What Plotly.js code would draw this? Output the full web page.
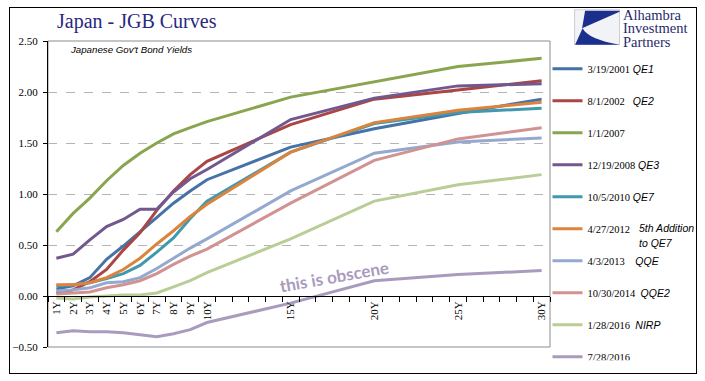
<!DOCTYPE html>
<html>
<head>
<meta charset="utf-8">
<script src="https://cdn.plot.ly/plotly-3.0.1.min.js"></script>
<style>
  body { margin: 0; background: #fff; }
  #chart { position: absolute; left: 0; top: 0; width: 705px; height: 381px; }
  #frame { position: absolute; left: 9px; top: 7px; width: 688px; height: 367px; box-sizing: border-box; border: 1px solid #000; pointer-events: none; }
</style>
</head>
<body>
<div id="chart"></div>
<div id="frame"></div>
<script>
// ---- data ----
const maturities = [1, 2, 3, 4, 5, 6, 7, 8, 9, 10, 15, 20, 25, 30];
const tickLabels = ['1Y','2Y','3Y','4Y','5Y','6Y','7Y','8Y','9Y','10Y','15Y','20Y','25Y','30Y'];
const boundaries = [0.5,1.5,2.5,3.5,4.5,5.5,6.5,7.5,8.5,9.5,10.5,11.5,12.5,13.5,14.5,15.5,16.5,17.5,18.5,19.5,20.5,21.5,22.5,23.5,24.5,25.5,26.5,27.5,28.5,29.5,30.5];

const dates  = ['3/19/2001','8/1/2002','1/1/2007','12/19/2008','10/5/2010','4/27/2012','4/3/2013','10/30/2014','1/28/2016','7/28/2016'];
const events = ['QE1','QE2','','QE3','QE7','','QQE','QQE2','NIRP',''];
const note2012 = ['5th Addition', 'to QE7'];

const y2001 = [0.07, 0.10, 0.18, 0.36, 0.49, 0.63, 0.77, 0.91, 1.03, 1.14, 1.46, 1.64, 1.79, 1.93];
const y2002 = [0.03, 0.06, 0.14, 0.26, 0.45, 0.62, 0.84, 1.03, 1.19, 1.32, 1.68, 1.93, 2.02, 2.11];
const y2007 = [0.63, 0.81, 0.96, 1.13, 1.28, 1.40, 1.50, 1.59, 1.65, 1.71, 1.95, 2.10, 2.25, 2.33];
const y2008 = [0.37, 0.41, 0.55, 0.68, 0.75, 0.85, 0.85, 1.02, 1.15, 1.24, 1.73, 1.94, 2.06, 2.08];
const y2010 = [0.10, 0.11, 0.13, 0.17, 0.22, 0.30, 0.43, 0.57, 0.76, 0.93, 1.41, 1.69, 1.80, 1.84];
const y2012 = [0.11, 0.11, 0.13, 0.18, 0.26, 0.37, 0.51, 0.64, 0.78, 0.90, 1.41, 1.70, 1.82, 1.90];
const y2013 = [0.05, 0.06, 0.08, 0.13, 0.14, 0.18, 0.27, 0.37, 0.47, 0.56, 1.03, 1.40, 1.51, 1.55];
const y2014 = [0.02, 0.03, 0.04, 0.08, 0.11, 0.15, 0.22, 0.31, 0.39, 0.46, 0.91, 1.33, 1.54, 1.65];
const y2016a = [-0.02, -0.03, -0.01, 0.00, 0.01, 0.01, 0.03, 0.09, 0.15, 0.23, 0.56, 0.93, 1.09, 1.19];
const y2016b = [-0.36, -0.34, -0.35, -0.35, -0.36, -0.38, -0.40, -0.37, -0.33, -0.26, -0.07, 0.15, 0.21, 0.25];

const seriesValues = [y2001, y2002, y2007, y2008, y2010, y2012, y2013, y2014, y2016a, y2016b];
const colors = ['#4572A7','#AA4643','#89A54E','#71588F','#4198AF','#DB843D','#93A9CF','#D19392','#B9CD96','#A99BBD'];
const gaps = [1, 3, 0, 1, 1, 0, 4, 2, 2, 0];

// ---- styles ----
const SERIF = 'Liberation Serif, Times New Roman, serif';
const SANS = 'Liberation Sans, Arial, sans-serif';

function legendName(i) {
  let s = dates[i];
  if (events[i]) {
    s += '&nbsp;'.repeat(gaps[i]) +
      '<span style="font-family:Liberation Sans;font-style:italic;font-size:10.5px">' + events[i] + '</span>';
  }
  return s;
}

const traces = seriesValues.map((vals, i) => ({
  type: 'scatter',
  mode: 'lines',
  x: maturities,
  y: vals,
  name: legendName(i),
  legendgroup: 'g' + i,
  line: { color: colors[i], width: 3 },
  hoverinfo: 'skip'
}));

const logoSvg = '<svg xmlns="http://www.w3.org/2000/svg" width="46" height="36" viewBox="0 0 46 36">' +
  '<rect x="0.5" y="0.5" width="45" height="35" fill="#f2f3f7" stroke="#c8c8d0"/>' +
  '<path d="M11,1.5 L45.5,1.5 L45.5,2.5 L8,19 Z" fill="#1b2f8c"/>' +
  '<path d="M1,35.5 L8.5,19 Q14,30 45.5,35.5 Z" fill="#1b2f8c"/>' +
  '</svg>';
const logoSrc = 'data:image/svg+xml;charset=utf-8,' + encodeURIComponent(logoSvg);

const noteFont = { family: SANS, size: 10.5, color: '#000' };
const logoFont = { family: SERIF, size: 14.5, color: '#1f2a6e' };

const layout = {
  width: 705,
  height: 381,
  margin: { l: 48, r: 155, t: 41, b: 34, pad: 0, autoexpand: false },
  paper_bgcolor: '#ffffff',
  plot_bgcolor: '#ffffff',
  showlegend: true,
  legend: {
    x: 0.995, xanchor: 'left',
    y: 0.957, yanchor: 'top',
    font: { family: SERIF, size: 10.5, color: '#000' },
    traceorder: 'grouped',
    tracegroupgap: 13,
    bgcolor: 'rgba(0,0,0,0)',
    borderwidth: 0,
    itemclick: false
  },
  xaxis: {
    range: [0.5, 30.5],
    anchor: 'free',
    position: 1 / 6,
    showline: true, linecolor: '#000', linewidth: 1,
    showgrid: false, zeroline: false,
    tickmode: 'array',
    tickvals: maturities,
    ticktext: tickLabels,
    ticks: '',
    tickangle: -90,
    ticklabelstandoff: 0,
    tickfont: { family: SERIF, size: 11, color: '#000' },
    minor: {
      tickmode: 'array',
      tickvals: boundaries,
      ticks: 'outside',
      ticklen: 5,
      tickwidth: 1,
      tickcolor: '#000',
      showgrid: false
    }
  },
  yaxis: {
    range: [-0.5, 2.5],
    dtick: 0.5,
    tick0: 0,
    tickformat: '.2f',
    showline: true, linecolor: '#000', linewidth: 1,
    ticks: 'outside', ticklen: 4, tickcolor: '#000',
    ticklabelstandoff: 3,
    showgrid: true, gridcolor: '#b4b4b4', griddash: 'dash', gridwidth: 1,
    zeroline: false,
    tickfont: { family: SERIF, size: 11, color: '#000' }
  },
  shapes: [
    { type: 'rect', xref: 'paper', yref: 'paper', x0: 0, x1: 1, y0: 0, y1: 1,
      line: { color: '#8c8c8c', width: 1 }, layer: 'below' }
  ],
  images: [
    { source: logoSrc, xref: 'paper', yref: 'paper', x: 1.048, y: 1.104,
      sizex: 0.0916, sizey: 0.1176, xanchor: 'left', yanchor: 'top', sizing: 'stretch', layer: 'above' }
  ],
  annotations: [
    { text: 'Japan - JGB Curves', xref: 'paper', yref: 'paper', x: 0.014, y: 1.065,
      xanchor: 'left', yanchor: 'middle', showarrow: false,
      font: { family: SERIF, size: 20, color: '#28287f' } },
    { text: "<i>Japanese Gov't Bond Yields</i>", xref: 'paper', yref: 'paper', x: 0.04, y: 0.972,
      xanchor: 'left', yanchor: 'middle', showarrow: false,
      font: { family: SANS, size: 9.7, color: '#000' } },
    { text: 'Alhambra', xref: 'paper', yref: 'paper', x: 1.141, y: 1.086,
      xanchor: 'left', yanchor: 'middle', showarrow: false, font: logoFont },
    { text: 'Investment', xref: 'paper', yref: 'paper', x: 1.141, y: 1.041,
      xanchor: 'left', yanchor: 'middle', showarrow: false, font: logoFont },
    { text: 'Partners', xref: 'paper', yref: 'paper', x: 1.141, y: 0.998,
      xanchor: 'left', yanchor: 'middle', showarrow: false, font: logoFont },
    { text: '<i>' + note2012[0] + '</i>', xref: 'paper', yref: 'paper', x: 1.173, y: 0.389,
      xanchor: 'left', yanchor: 'middle', showarrow: false, font: noteFont },
    { text: '<i>' + note2012[1] + '</i>', xref: 'paper', yref: 'paper', x: 1.173, y: 0.34,
      xanchor: 'left', yanchor: 'middle', showarrow: false, font: noteFont },
    { text: '<b>this is obscene</b>', xref: 'x', yref: 'y', x: 17.6, y: 0.19,
      xanchor: 'center', yanchor: 'middle', showarrow: false, textangle: -10,
      font: { family: 'Lato, Open Sans, sans-serif', size: 17, color: '#A99BBD' } }
  ]
};

Plotly.newPlot('chart', traces, layout, { displayModeBar: false, staticPlot: true });
</script>
</body>
</html>
